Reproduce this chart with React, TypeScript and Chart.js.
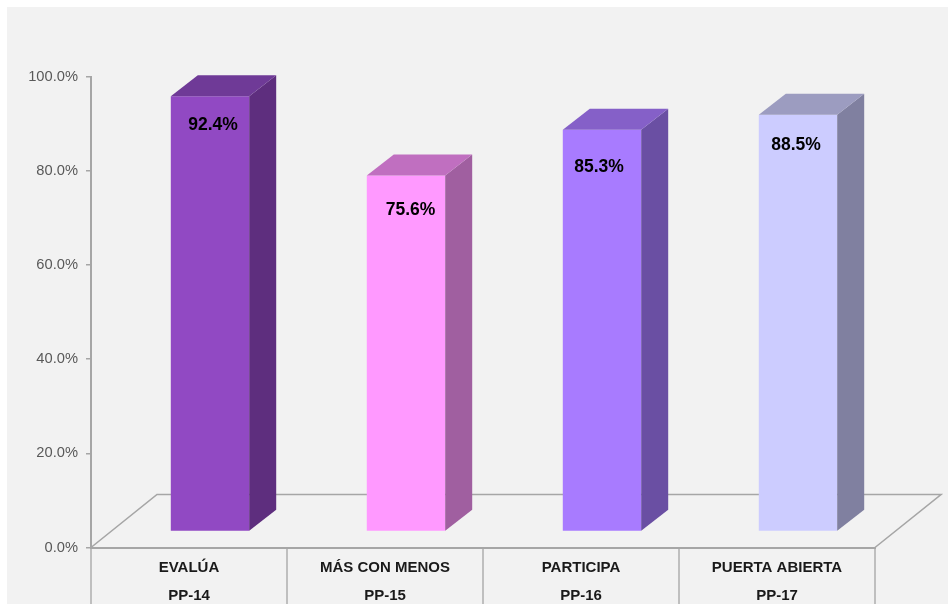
import React, { useEffect, useRef } from "react";
import { Chart, registerables } from "chart.js";

Chart.register(...registerables);

const categories = [["EVALÚA", "PP-14"], ["MÁS CON MENOS", "PP-15"], ["PARTICIPA", "PP-16"], ["PUERTA ABIERTA", "PP-17"]];
const values = [92.4, 75.6, 85.3, 88.5];
const frontColors = ["#9149C3", "#FF99FF", "#A87BFF", "#CCCCFF"];
const sideColors = ["#5E2E7E", "#A05FA0", "#6A4FA3", "#8080A0"];
const topColors = ["#6F3A97", "#C06FC0", "#8560C8", "#9C9CC0"];
const labelDx = [3, 4.5, -3, -2];
const labelDy = [29, 35, 37, 31];

const AXIS = "#a6a6a6";
const FONT = "'Liberation Sans', Arial, sans-serif";
const BAR_DX = 21, BAR_DY = -16;
const SIDE_DX = 27, SIDE_DY = -21;
const FLOOR_DX = 66, FLOOR_DY = -53;

const panel = {
  id: "panel",
  beforeDraw(c: any) {
    const { ctx, width, height } = c;
    ctx.fillStyle = "#ffffff";
    ctx.fillRect(0, 0, width, height);
    ctx.fillStyle = "#f2f2f2";
    ctx.fillRect(7, 7, width - 7, height - 7);
  },
};

const floor = {
  id: "floor",
  beforeDatasetsDraw(c: any) {
    const { ctx } = c;
    const x = c.scales.x, y = c.scales.y;
    const b = y.getPixelForValue(0);
    ctx.save();
    ctx.strokeStyle = AXIS;
    ctx.lineWidth = 1.6;
    ctx.beginPath();
    ctx.moveTo(x.left, b);
    ctx.lineTo(x.left + FLOOR_DX, b + FLOOR_DY);
    ctx.lineTo(x.right + FLOOR_DX, b + FLOOR_DY);
    ctx.lineTo(x.right, b);
    ctx.stroke();
    ctx.restore();
  },
};

const bars3d = {
  id: "bars3d",
  beforeDatasetsDraw(c: any) {
    c.ctx.save();
    c.ctx.translate(BAR_DX, BAR_DY);
  },
  afterDatasetsDraw(c: any) {
    const { ctx } = c;
    const meta = c.getDatasetMeta(0);
    meta.data.forEach((el: any, i: number) => {
      const l = el.x - el.width / 2, r = el.x + el.width / 2;
      const t = el.y, bt = el.base;
      ctx.fillStyle = sideColors[i];
      ctx.beginPath();
      ctx.moveTo(r, t);
      ctx.lineTo(r + SIDE_DX, t + SIDE_DY);
      ctx.lineTo(r + SIDE_DX, bt + SIDE_DY);
      ctx.lineTo(r, bt);
      ctx.closePath();
      ctx.fill();
      ctx.fillStyle = topColors[i];
      ctx.beginPath();
      ctx.moveTo(l, t);
      ctx.lineTo(l + SIDE_DX, t + SIDE_DY);
      ctx.lineTo(r + SIDE_DX, t + SIDE_DY);
      ctx.lineTo(r, t);
      ctx.closePath();
      ctx.fill();
      ctx.fillStyle = "#000000";
      ctx.font = `bold 17.5px ${FONT}`;
      ctx.textAlign = "center";
      ctx.textBaseline = "middle";
      ctx.fillText(values[i].toFixed(1) + "%", el.x + labelDx[i], t + labelDy[i]);
    });
    ctx.restore();
  },
};

export default function App() {
  const ref = useRef<HTMLCanvasElement | null>(null);
  useEffect(() => {
    const chart = new Chart(ref.current as HTMLCanvasElement, {
      type: "bar",
      data: {
        labels: categories,
        datasets: [{
          data: values,
          backgroundColor: frontColors,
          barPercentage: 0.4,
          categoryPercentage: 1,
          clip: false,
        } as any],
      },
      plugins: [panel, floor, bars3d],
      options: {
        responsive: false,
        animation: false,
        layout: { padding: { top: 76.5, right: 73, left: 0, bottom: 0 } },
        plugins: { legend: { display: false }, tooltip: { enabled: false }, title: { display: false } },
        scales: {
          x: {
            afterFit(s: any) { s.height = 56.5; },
            border: { color: AXIS, width: 2 },
            grid: { drawOnChartArea: false, tickLength: 57, color: "#bfbfbf", lineWidth: 2, offset: true },
            ticks: {
              maxRotation: 0,
              autoSkip: false,
              padding: -51,
              color: "#1a1a1a",
              font: { family: FONT, size: 15, weight: "bold", lineHeight: 1.87 },
            },
          },
          y: {
            min: 0,
            max: 100,
            afterFit(s: any) { s.width = 91; },
            border: { color: AXIS, width: 2 },
            grid: { drawOnChartArea: false, tickLength: 5, color: AXIS, lineWidth: 1.5 },
            ticks: {
              stepSize: 20,
              padding: 8,
              color: "#595959",
              font: { family: FONT, size: 14.7 },
              callback: (v: any) => Number(v).toFixed(1) + "%",
            },
          },
        },
      } as any,
    });
    return () => chart.destroy();
  }, []);
  return (
    <div style={{ position: "fixed", left: 0, top: 0, width: 948, height: 604 }}>
      <canvas ref={ref} width={948} height={604} style={{ display: "block" }} />
    </div>
  );
}
